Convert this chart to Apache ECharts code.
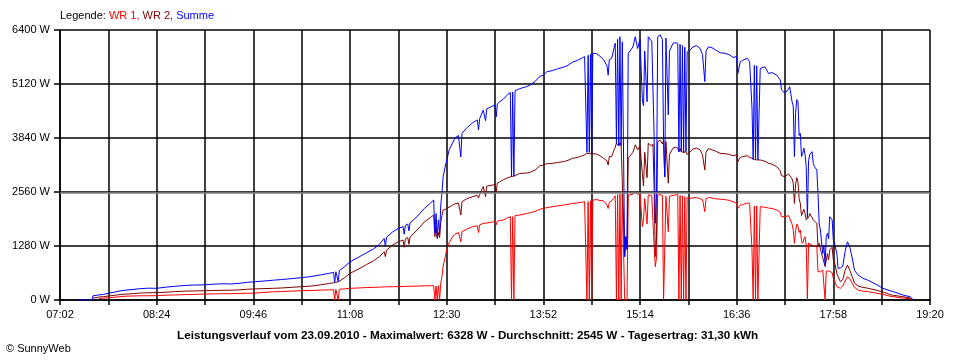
<!DOCTYPE html>
<html><head><meta charset="utf-8">
<script src="https://cdn.jsdelivr.net/npm/echarts@6/dist/echarts.min.js"></script>
<style>html,body{margin:0;padding:0;background:#fff}#c{width:960px;height:360px}</style>
</head><body><div id="c"></div>
<script>
// Shared sample times (clock time)
const times = ['07:16','07:29','07:30','07:35','07:39','07:43','07:48','07:53','07:58','08:04','08:10','08:17','08:24','08:32','08:40','08:48','08:56','09:05','09:12','09:20','09:27','09:34','09:41','09:46','09:55','10:03','10:10','10:18','10:27','10:35','10:43','10:50','10:54','10:55','10:56','10:58','10:59','11:03','11:08','11:15','11:22','11:28','11:33','11:37','11:38','11:39','11:44','11:49','11:53','11:54','11:55','11:57','11:58','11:59','12:05','12:11','12:16','12:19','12:20','12:21','12:22','12:23','12:24','12:25','12:26','12:27','12:29','12:30','12:32','12:35','12:37','12:40','12:42','12:43','12:47','12:52','12:56','12:57','12:58','13:01','13:03','13:04','13:09','13:11','13:12','13:13','13:15','13:18','13:21','13:24','13:25','13:26','13:27','13:28','13:32','13:38','13:41','13:45','13:49','13:52','13:55','14:00','14:04','14:09','14:12','14:17','14:21','14:25','14:27','14:29','14:30','14:31','14:32','14:33','14:34','14:37','14:40','14:43','14:46','14:47','14:48','14:50','14:52','14:53','14:54','14:55','14:56','14:57','14:58','14:59','15:01','15:02','15:03','15:04','15:05','15:08','15:10','15:12','15:14','15:16','15:17','15:18','15:20','15:21','15:24','15:25','15:26','15:27','15:28','15:29','15:31','15:32','15:33','15:34','15:35','15:36','15:38','15:39','15:42','15:44','15:46','15:47','15:48','15:49','15:50','15:51','15:52','15:53','15:54','15:56','15:59','16:02','16:05','16:07','16:09','16:10','16:12','16:15','16:18','16:22','16:26','16:30','16:33','16:36','16:37','16:39','16:41','16:45','16:47','16:49','16:50','16:51','16:52','16:53','16:54','16:56','17:00','17:03','17:06','17:10','17:13','17:14','17:17','17:20','17:21','17:23','17:24','17:25','17:26','17:27','17:28','17:29','17:30','17:31','17:32','17:33','17:34','17:35','17:36','17:37','17:38','17:40','17:41','17:42','17:44','17:45','17:46','17:47','17:48','17:49','17:50','17:51','17:52','17:53','17:54','17:55','17:57','17:58','17:59','18:01','18:02','18:04','18:06','18:08','18:10','18:12','18:14','18:16','18:19','18:23','18:27','18:35','18:40','18:46','18:49','18:57','19:03','19:06'];

// WR 1 (W)
const wr1 = [null,null,null,35,45,55,65,80,90,95,100,100,103,115,120,128,132,142,145,150,150,155,160,162,180,195,200,210,221,225,235,240,245,0,250,0,255,262,277,285,295,300,305,310,310,312,315,318,320,322,322,325,325,325,330,335,338,340,0,330,0,340,0,400,553,800,1050,1185,1350,1500,1560,1600,1380,1620,1680,1738,1760,1600,1780,1817,1820,1830,1850,1857,1780,1870,1880,1896,1940,1975,0,1975,0,2000,2015,2050,2070,2100,2150,2170,2190,2212,2230,2250,2265,2290,2300,2320,2330,0,2330,0,2350,0,2370,2380,2360,2350,2250,2170,2320,2350,2420,2470,0,2500,0,2510,0,2500,0,0,0,2480,2500,2510,2550,2500,2540,1738,1900,2400,1800,2490,2480,2460,1264,790,1000,2480,2500,2510,2480,0,0,2460,1620,2460,2480,2490,2500,0,2480,0,2470,0,2450,0,2430,2410,2420,2430,2400,2380,2093,2400,2430,2420,2400,2390,2380,2360,2330,2290,2170,2250,2260,2300,2290,1185,0,2230,0,2230,0,2212,2200,2180,2170,2133,2080,1975,1975,2000,2010,1800,1660,1343,1650,1800,1750,1600,1660,1400,1343,1450,1500,1300,0,1350,1380,1300,1300,1280,1260,670,670,670,670,711,670,0,680,680,690,700,650,514,450,316,277,277,332,450,553,500,400,300,237,210,200,160,134,90,79,45,30,0];

// WR 2 (W)
const wr2 = [null,null,45,70,80,95,110,130,140,150,165,172,174,185,200,210,215,221,225,230,232,240,255,262,270,277,285,300,316,330,360,390,410,415,420,430,440,520,632,730,840,930,1030,1145,1027,1180,1300,1380,1420,1250,1450,1480,1320,1500,1660,1850,1950,2015,1500,1750,1450,1600,1480,1850,2000,2130,2150,2150,2200,2250,2280,2300,2015,2330,2400,2450,2480,2420,2500,2690,2450,2700,2725,2740,2560,2770,2800,2850,2890,2920,2920,2930,2930,2950,3000,3010,3030,3080,3180,3200,3230,3240,3260,3280,3300,3360,3380,3420,3440,3475,3470,3475,3480,3470,3480,3460,3420,3360,3300,3200,3400,3400,3560,3620,3720,3680,3650,3730,3660,3620,1030,1500,1200,3360,3400,3500,3680,3560,3650,3000,2700,3500,2900,3715,3650,3700,2610,1030,1500,3750,3790,3818,3700,3790,2920,3750,2770,3450,3600,3620,3600,3515,3590,3515,3560,3500,3540,3515,3450,3500,3580,3600,3560,3440,3080,3500,3590,3560,3530,3475,3470,3450,3420,3440,3280,3380,3400,3420,3380,3360,3330,3330,3320,3320,3320,3320,3290,3240,3220,3160,3060,2950,2920,2990,3000,2870,2765,2290,2750,2900,2800,2400,2290,2000,1975,2150,2050,1900,1900,1950,2050,1950,1896,1850,1820,1264,1343,1343,1100,1000,900,790,950,1100,950,1185,1250,950,900,632,553,434,480,700,830,700,553,400,330,300,280,230,190,130,110,79,50,0];

// Summe (W)
const summe = [0,0,100,120,135,158,185,215,235,250,270,280,277,305,325,345,355,360,375,385,380,395,420,430,450,470,485,505,530,555,595,630,655,420,670,440,700,780,905,1010,1120,1210,1320,1460,1264,1490,1610,1700,1740,1560,1770,1800,1640,1830,1980,2170,2290,2370,1590,2050,1500,1900,1560,2250,2540,2920,3200,3300,3550,3720,3840,3900,3390,3950,4080,4200,4270,4030,4300,4500,4250,4530,4600,4620,4340,4650,4700,4760,4850,4920,2920,4930,2930,4960,5010,5060,5100,5180,5300,5330,5410,5440,5480,5520,5550,5640,5680,5740,5770,3500,5800,3500,5830,3480,5850,5840,5780,5700,5550,5330,5700,5730,5980,6085,3720,6180,3650,6240,3660,6120,1030,1500,1200,5840,5810,6000,6240,5960,6180,4740,4600,5900,4700,6240,6130,6160,3870,1820,2500,6230,6290,6328,6180,3790,2920,6210,4390,5900,6085,6100,6085,3515,6060,3515,6030,3500,5990,3515,5880,5910,6000,6030,5960,5820,5175,5900,6000,5980,5930,5860,5850,5810,5750,5770,5370,5650,5680,5730,5650,4550,3330,5560,3320,5550,3320,5490,5530,5370,5390,5330,5215,4980,4900,5000,5055,4700,4600,3400,4450,4750,4700,3900,3950,3400,3475,3600,3450,3160,1950,3300,3450,3515,3240,3160,3080,2530,1800,1660,1700,1100,1300,830,1500,1580,1450,1975,1900,1422,1350,1100,750,760,800,1150,1380,1250,1000,700,593,514,474,360,277,220,197,118,79,0];

const avgW = 2545;
const yTicks = [0, 1280, 2560, 3840, 5120, 6400];
const xLabels = ['07:02','08:24','09:46','11:08','12:30','13:52','15:14','16:36','17:58','19:20'];
const t0 = 7*60+2, t1 = 19*60+20, step = 41;

function toMin(s){const p=s.split(':');return (+p[0])*60+(+p[1]);}
function mk(vals){
  const out=[];
  for(let i=0;i<times.length;i++){ if(vals[i]!==null) out.push([toMin(times[i])-t0, vals[i]]); }
  return out;
}
const font = 'Liberation Sans, Arial, sans-serif';
const chart = echarts.init(document.getElementById('c'));
chart.setOption({
  animation:false,
  backgroundColor:'#ffffff',
  title:[
    {text:'{k|Legende: }{a|WR 1, }{b|WR 2, }{c|Summe}', left:60, top:10, padding:0,
     textStyle:{fontFamily:font, fontSize:11, fontWeight:'normal', rich:{
       k:{color:'#000',fontFamily:font,fontSize:11}, a:{color:'#ff0000',fontFamily:font,fontSize:11},
       b:{color:'#800000',fontFamily:font,fontSize:11}, c:{color:'#0000ff',fontFamily:font,fontSize:11}}}},
    {text:'Leistungsverlauf vom 23.09.2010 - Maximalwert: 6328 W - Durchschnitt: 2545 W - Tagesertrag: 31,30 kWh',
     left:177, top:330, padding:0, textStyle:{fontFamily:font, fontSize:11.7, fontWeight:'bold', color:'#000'}},
    {text:'© SunnyWeb', left:6, top:343, padding:0, textStyle:{fontFamily:font, fontSize:11, fontWeight:'normal', color:'#000'}}
  ],
  grid:{left:60, right:30, top:30, bottom:60, containLabel:false},
  xAxis:{type:'value', min:0, max:t1-t0, interval:step,
    axisLine:{show:true, onZero:false, lineStyle:{color:'#000', width:1.5}},
    axisTick:{show:true, length:5, lineStyle:{color:'#000', width:1.5}},
    axisLabel:{color:'#000', fontFamily:font, fontSize:11, margin:9,
      formatter:function(v){ const k=Math.round(v/step); return k%2===0 ? (xLabels[k/2]||'') : ''; }},
    splitLine:{show:true, lineStyle:{color:'#000', width:1.5}}},
  yAxis:{type:'value', min:yTicks[0], max:yTicks[yTicks.length-1], interval:yTicks[1]-yTicks[0],
    axisLine:{show:true, lineStyle:{color:'#000', width:1.5}},
    axisTick:{show:true, length:6, lineStyle:{color:'#000', width:1.5}},
    axisLabel:{color:'#000', fontFamily:font, fontSize:11, margin:10, formatter:function(v){return v+' W';}},
    splitLine:{show:true, lineStyle:{color:'#000', width:1.5}}},
  series:[
    {name:'WR 1', type:'line', data:mk(wr1), showSymbol:false, symbol:'none', lineStyle:{color:'#ff0000', width:1}, itemStyle:{color:'#ff0000'}, z:2,
     markLine:{silent:true, symbol:'none', label:{show:false}, lineStyle:{color:'#808080', type:'solid', width:1.5}, data:[{yAxis:avgW}]}},
    {name:'WR 2', type:'line', data:mk(wr2), showSymbol:false, symbol:'none', lineStyle:{color:'#800000', width:1}, itemStyle:{color:'#800000'}, z:3},
    {name:'Summe', type:'line', data:mk(summe), showSymbol:false, symbol:'none', lineStyle:{color:'#0000ff', width:1}, itemStyle:{color:'#0000ff'}, z:4}
  ]
});
</script></body></html>
